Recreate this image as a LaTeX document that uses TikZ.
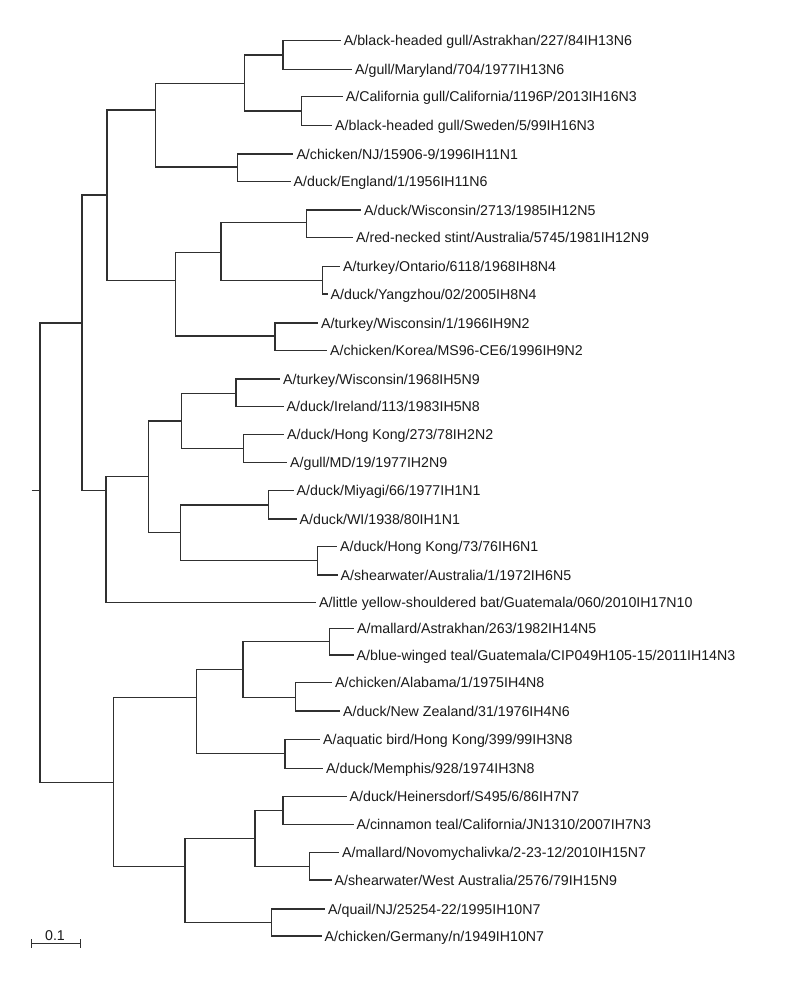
\documentclass[tikz,border=0pt]{standalone}
\usepackage{fontspec}
\setmainfont{Liberation Sans}
\definecolor{ink}{HTML}{1A1A1A}
\definecolor{brc}{HTML}{303030}
\tikzset{
  br/.style={draw=brc, line width=1.1pt},
  lab/.style={anchor=west, inner sep=0pt, text height=10.2pt, text depth=0pt, text=ink,
    font=\fontsize{14.2pt}{17pt}\selectfont}
}
\newcommand\mkleaf[5]{%
  \node[lab] (#1) at (#3+3,#4) {#5};
  \draw[br] (#2) |- ([xshift=-3pt]#1.west);}
\begin{document}
\begin{tikzpicture}[x=1pt,y=-1pt]
\fill[white] (0,0) rectangle (811,991);
\useasboundingbox (0,0) rectangle (811,991);
% internal nodes
\coordinate (r0) at (31.7,490.7);
\coordinate (r) at (40,490.7);
\coordinate (n1) at (82,323);
\coordinate (n2) at (113.3,782.7);
\coordinate (nA) at (107,195);
\coordinate (nB) at (106,490.7);
\coordinate (nA1) at (155.7,110);
\coordinate (nA2) at (175.7,280.7);
\coordinate (nA11) at (244.3,83.3);
\coordinate (nA12) at (237.7,167);
\coordinate (na) at (283,55);
\coordinate (nb) at (301.7,111);
\coordinate (nA21) at (221,252.3);
\coordinate (nA22) at (275,336);
\coordinate (nc) at (306.3,222.7);
\coordinate (nd) at (322.3,280.7);
\coordinate (nB1) at (148.3,476.7);
\coordinate (nB11) at (181.7,421);
\coordinate (nB12) at (180.3,532.3);
\coordinate (ne) at (236,393.3);
\coordinate (nf) at (243.3,448.3);
\coordinate (ng) at (268.7,505);
\coordinate (nh) at (317.7,560.7);
\coordinate (nC) at (196.7,697.7);
\coordinate (nD) at (185,866.7);
\coordinate (nC1) at (243,669.3);
\coordinate (nC2) at (285,753.3);
\coordinate (ni) at (329.3,641.3);
\coordinate (nj) at (295.7,697.3);
\coordinate (nD1) at (255,838.7);
\coordinate (nD2) at (271.7,922.7);
\coordinate (nk) at (283,810.3);
\coordinate (nl) at (309.7,866.7);
% internal branches
\draw[br] (r0) -- (r);
\draw[br] (r) |- (n1);
\draw[br] (r) |- (n2);
\draw[br] (n1) |- (nA);
\draw[br] (n1) |- (nB);
\draw[br] (nA) |- (nA1);
\draw[br] (nA) |- (nA2);
\draw[br] (nA1) |- (nA11);
\draw[br] (nA1) |- (nA12);
\draw[br] (nA11) |- (na);
\draw[br] (nA11) |- (nb);
\draw[br] (nA2) |- (nA21);
\draw[br] (nA2) |- (nA22);
\draw[br] (nA21) |- (nc);
\draw[br] (nA21) |- (nd);
\draw[br] (nB) |- (nB1);
\draw[br] (nB1) |- (nB11);
\draw[br] (nB1) |- (nB12);
\draw[br] (nB11) |- (ne);
\draw[br] (nB11) |- (nf);
\draw[br] (nB12) |- (ng);
\draw[br] (nB12) |- (nh);
\draw[br] (n2) |- (nC);
\draw[br] (n2) |- (nD);
\draw[br] (nC) |- (nC1);
\draw[br] (nC) |- (nC2);
\draw[br] (nC1) |- (ni);
\draw[br] (nC1) |- (nj);
\draw[br] (nD) |- (nD1);
\draw[br] (nD) |- (nD2);
\draw[br] (nD1) |- (nk);
\draw[br] (nD1) |- (nl);
% leaves
\mkleaf{t1}{na}{340.7}{40.7}{A/black-headed gull/Astrakhan/227/84IH13N6}
\mkleaf{t2}{na}{352}{69.3}{A/gull/Maryland/704/1977IH13N6}
\mkleaf{t3}{nb}{342.7}{96.7}{A/California gull/California/1196P/2013IH16N3}
\mkleaf{t4}{nb}{332}{125.3}{A/black-headed gull/Sweden/5/99IH16N3}
\mkleaf{t5}{nA12}{293.3}{154}{A/chicken/NJ/15906-9/1996IH11N1}
\mkleaf{t6}{nA12}{290.5}{181.3}{A/duck/England/1/1956IH11N6}
\mkleaf{t7}{nc}{361}{210}{A/duck/Wisconsin/2713/1985IH12N5}
\mkleaf{t8}{nc}{353}{237.7}{A/red-necked stint/Australia/5745/1981IH12N9}
\mkleaf{t9}{nd}{340}{266.7}{A/turkey/Ontario/6118/1968IH8N4}
\mkleaf{t10}{nd}{327.5}{294}{A/duck/Yangzhou/02/2005IH8N4}
\mkleaf{t11}{nA22}{318}{323}{A/turkey/Wisconsin/1/1966IH9N2}
\mkleaf{t12}{nA22}{327}{350.7}{A/chicken/Korea/MS96-CE6/1996IH9N2}
\mkleaf{t13}{ne}{280}{379}{A/turkey/Wisconsin/1968IH5N9}
\mkleaf{t14}{ne}{283.5}{406.7}{A/duck/Ireland/113/1983IH5N8}
\mkleaf{t15}{nf}{284}{434.3}{A/duck/Hong Kong/273/78IH2N2}
\mkleaf{t16}{nf}{287}{462.7}{A/gull/MD/19/1977IH2N9}
\mkleaf{t17}{ng}{293.5}{490.7}{A/duck/Miyagi/66/1977IH1N1}
\mkleaf{t18}{ng}{296.5}{519}{A/duck/WI/1938/80IH1N1}
\mkleaf{t19}{nh}{337}{546.7}{A/duck/Hong Kong/73/76IH6N1}
\mkleaf{t20}{nh}{337.5}{575}{A/shearwater/Australia/1/1972IH6N5}
\mkleaf{t21}{nB}{316}{602.3}{A/little yellow-shouldered bat/Guatemala/060/2010IH17N10}
\mkleaf{t22}{ni}{354}{628.3}{A/mallard/Astrakhan/263/1982IH14N5}
\mkleaf{t23}{ni}{353.5}{655}{A/blue-winged teal/Guatemala/CIP049H105-15/2011IH14N3}
\mkleaf{t24}{nj}{332}{682.7}{A/chicken/Alabama/1/1975IH4N8}
\mkleaf{t25}{nj}{340}{711}{A/duck/New Zealand/31/1976IH4N6}
\mkleaf{t26}{nC2}{320}{739.3}{A/aquatic bird/Hong Kong/399/99IH3N8}
\mkleaf{t27}{nC2}{323}{768.3}{A/duck/Memphis/928/1974IH3N8}
\mkleaf{t28}{nk}{346.5}{796.7}{A/duck/Heinersdorf/S495/6/86IH7N7}
\mkleaf{t29}{nk}{353.5}{824.3}{A/cinnamon teal/California/JN1310/2007IH7N3}
\mkleaf{t30}{nl}{339}{852.3}{A/mallard/Novomychalivka/2-23-12/2010IH15N7}
\mkleaf{t31}{nl}{331.5}{880}{A/shearwater/West Australia/2576/79IH15N9}
\mkleaf{t32}{nD2}{325}{909}{A/quail/NJ/25254-22/1995IH10N7}
\mkleaf{t33}{nD2}{321.5}{936}{A/chicken/Germany/n/1949IH10N7}
% scale bar
\coordinate (s0) at (31.7,943.3);
\coordinate (s1) at (80,943.3);
\draw[br, line width=0.9pt] (s0) -- (s1);
\draw[br, line width=0.9pt] ([yshift=4pt]s0) -- ([yshift=-4.5pt]s0);
\draw[br, line width=0.9pt] ([yshift=4pt]s1) -- ([yshift=-4.5pt]s1);
\node[lab, anchor=center] (sl) at (55,935.5) {0.1};
\end{tikzpicture}
\end{document}
